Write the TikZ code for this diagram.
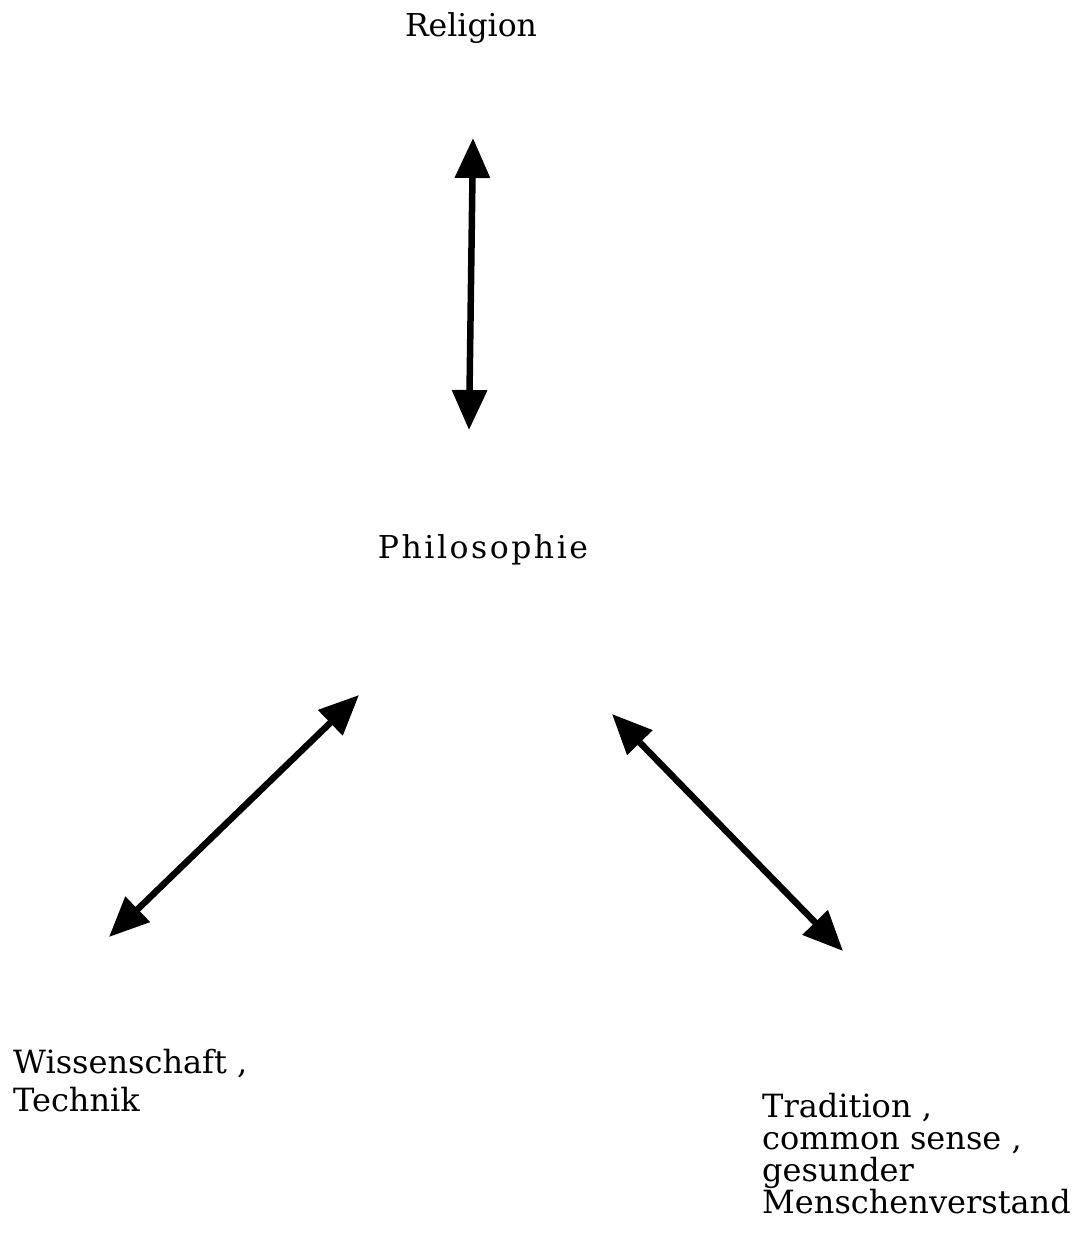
\documentclass[tikz,border=0pt]{standalone}
\usepackage{fontspec}
\setmainfont{DejaVu Serif}
\newfontfamily\spacedfont[LetterSpace=8]{DejaVu Serif}
\usetikzlibrary{arrows.meta}
\begin{document}
\begin{tikzpicture}[x=1pt,y=-1pt,
  lbl/.style={inner sep=0pt, text=black},
  link/.style={line width=6.5pt, draw=black, {Triangle[length=40pt,width=34pt]}-{Triangle[length=40pt,width=34pt]}}]
\useasboundingbox (0,0) rectangle (1079,1243);
% labels
\node[lbl, anchor=base, font=\fontsize{31.5}{38}\selectfont] (rel) at (471,36) {Religion};
\node[lbl, anchor=base, font=\spacedfont\fontsize{31.5}{38}\selectfont] (phil) at (483,558) {Philosophie};
\node[lbl, anchor=base west, align=left, font=\fontsize{32}{38}\selectfont] (wiss) at (13,1111) {Wissenschaft ,\\Technik};
\node[lbl, anchor=base west, align=left, font=\fontsize{32}{31.7}\selectfont] (trad) at (762,1213) {Tradition ,\\common sense ,\\gesunder\\Menschenverstand};
% arrow end points
\coordinate (relEnd) at (473,138);
\coordinate (philTop) at (469,430);
\coordinate (philLeft) at (359,695);
\coordinate (wissEnd) at (109,937);
\coordinate (philRight) at (612,714);
\coordinate (tradEnd) at (843,951);
% connectors
\draw[link] (relEnd) -- (philTop);
\draw[link] (philLeft) -- (wissEnd);
\draw[link] (philRight) -- (tradEnd);
\end{tikzpicture}
\end{document}
